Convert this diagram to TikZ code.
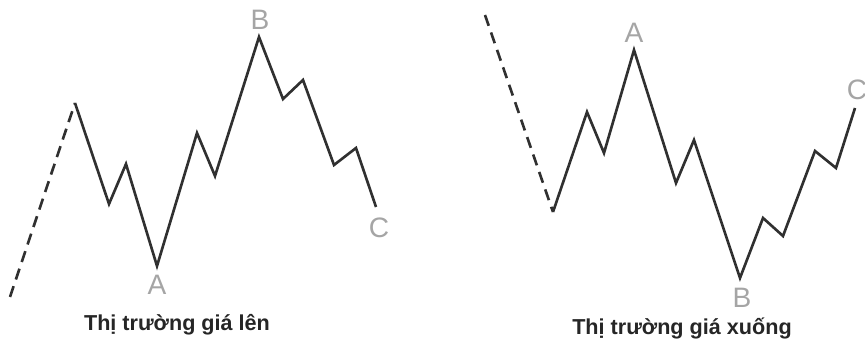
\documentclass[tikz,border=0pt]{standalone}
\usepackage{fontspec}
\setmainfont{Liberation Sans}
\usetikzlibrary{positioning}
\definecolor{wave}{RGB}{48,48,48}
\definecolor{pointlab}{RGB}{165,165,165}
\tikzset{
  wave/.style={draw=wave,line width=1.5pt},
  lead/.style={wave,dash pattern=on 6.5pt off 4pt},
  ptlab/.style={font=\fontsize{16}{16}\selectfont,text=pointlab,inner sep=0pt},
  title/.style={font=\bfseries\fontsize{12.3}{14}\selectfont,text=black!85,inner sep=0pt},
}

\begin{document}
\begin{tikzpicture}[x=0.02cm,y=-0.02cm]
\useasboundingbox (0,0) rectangle (865,340);
% rising market
\coordinate (u0) at (10,297);
\foreach \n/\p in {1/{75,103},2/{109,204},3/{126,164},4/{157,266},5/{197,133},6/{215,176},
                   7/{259,37},8/{283,99},9/{303,80},10/{334,165},11/{356,148},12/{376,207}}{
  \coordinate (u\n) at (\p);
}
\draw[lead] (u0) -- (u1);
\draw[wave] (u1) -- (u2) -- (u3) -- (u4) -- (u5) -- (u6) -- (u7) -- (u8) -- (u9) -- (u10) -- (u11) -- (u12);
\node[ptlab] (uA) at (157,285) {A};
\node[ptlab] (uB) at (260,20) {B};
\node[ptlab] (uC) at (379,228) {C};
\node[title] (upT) at (177,325) {Thị trường giá lên};
% falling market
\coordinate (d0) at (485,15);
\foreach \n/\p in {1/{553,212},2/{587,112},3/{604,153},4/{634,50},5/{676,183},6/{694,140},
                   7/{740,278},8/{763,218},9/{783,236},10/{815,151},11/{836,168},12/{855,108}}{
  \coordinate (d\n) at (\p);
}
\draw[lead] (d0) -- (d1);
\draw[wave] (d1) -- (d2) -- (d3) -- (d4) -- (d5) -- (d6) -- (d7) -- (d8) -- (d9) -- (d10) -- (d11) -- (d12);
\node[ptlab] (dA) at (634,33) {A};
\node[ptlab] (dB) at (742,298) {B};
\node[ptlab] (dC) at (857,90) {C};
\node[title] (downT) at (682,328) {Thị trường giá xuống};
\end{tikzpicture}
\end{document}
